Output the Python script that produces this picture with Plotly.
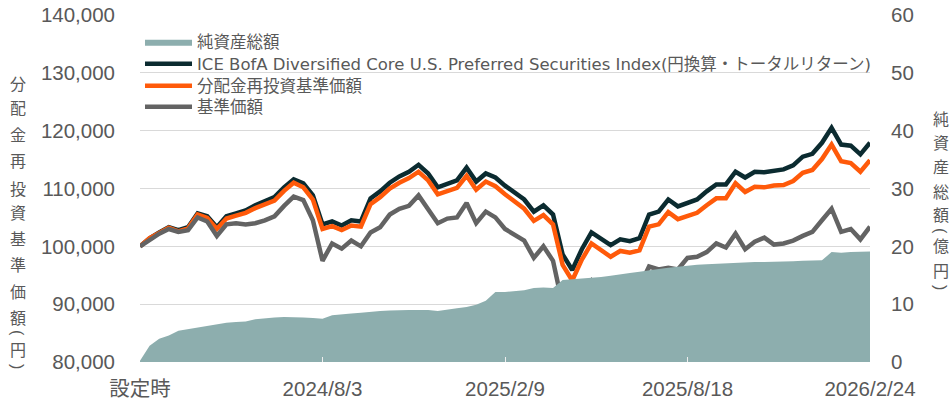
import pandas as pd
import plotly.graph_objects as go

# ---- data ----
dates = pd.date_range("2024-01-26", periods=77, freq="10D")

index_tr = [100.0, 101.4, 102.4, 103.3, 102.8, 103.3, 105.7, 105.2, 103.3, 105.2,
            105.7, 106.2, 107.1, 107.8, 108.5, 110.2, 111.6, 110.9, 108.8, 103.8,
            104.3, 103.6, 104.5, 104.3, 108.3, 109.5, 111.0, 112.1, 112.9, 114.1,
            112.6, 110.2, 110.9, 111.4, 113.6, 111.2, 112.6, 111.9, 110.5, 109.3,
            108.1, 106.0, 107.1, 105.5, 98.6, 95.9, 99.5, 102.4, 101.2, 100.2,
            101.2, 100.9, 101.4, 105.5, 106.0, 108.1, 106.9, 107.6, 108.1, 109.5,
            110.7, 110.7, 112.9, 111.9, 112.9, 112.8, 113.1, 113.3, 114.0, 115.5,
            116.0, 117.9, 120.5, 117.6, 117.4, 115.9, 117.9]

nav_reinvest = [100.0, 101.4, 102.3, 103.2, 102.6, 103.1, 105.5, 104.9, 103.0, 104.8,
                105.3, 105.8, 106.6, 107.3, 107.9, 109.6, 111.0, 110.2, 108.1, 103.0,
                103.5, 102.8, 103.6, 103.4, 107.3, 108.5, 110.0, 111.0, 111.8, 112.9,
                111.4, 109.0, 109.6, 110.1, 112.2, 109.8, 111.2, 110.4, 109.0, 107.7,
                106.5, 104.4, 105.4, 103.8, 96.8, 94.1, 97.7, 100.5, 99.3, 98.2,
                99.2, 98.9, 99.3, 103.4, 103.8, 105.9, 104.7, 105.3, 105.8, 107.1,
                108.3, 108.3, 110.9, 109.4, 110.3, 110.2, 110.5, 110.6, 111.3, 112.7,
                113.2, 115.1, 117.6, 114.7, 114.4, 112.9, 114.9]

nav = [100.0, 101.2, 102.2, 103.0, 102.5, 102.8, 105.0, 104.3, 101.8, 103.8,
       104.0, 103.8, 104.0, 104.5, 105.2, 107.0, 108.6, 108.0, 104.5, 97.5,
       100.5, 99.6, 101.0, 100.0, 102.4, 103.3, 105.5, 106.5, 107.0, 108.8,
       106.5, 104.0, 104.8, 105.0, 107.5, 104.0, 106.0, 105.0, 103.0, 102.0,
       101.0, 98.0, 100.0, 97.5, 89.8, 88.0, 91.5, 94.0, 91.5, 90.5,
       93.0, 91.8, 93.0, 96.5, 96.0, 96.3, 96.0, 98.0, 98.2, 99.0,
       100.5, 99.8, 102.2, 99.5, 100.8, 101.5, 100.3, 100.5, 101.0, 101.8,
       102.5, 104.5, 106.5, 102.5, 103.0, 101.2, 103.4]

net_assets = [0.2, 2.8, 4.0, 4.6, 5.4, 5.7, 5.9, 6.2, 6.6, 6.8,
              6.9, 7.0, 7.4, 7.6, 7.7, 7.8, 7.8, 7.7, 7.6, 7.5,
              8.1, 8.3, 8.4, 8.5, 8.7, 8.8, 8.9, 9.0, 9.0, 9.0,
              9.0, 8.8, 9.1, 9.3, 9.5, 9.9, 10.6, 12.1, 12.1, 12.2,
              12.4, 12.8, 12.9, 12.8, 14.2, 14.3, 14.4, 14.6, 14.7, 14.9,
              15.2, 15.4, 15.6, 15.9, 16.1, 16.3, 16.5, 16.6, 16.8, 16.9,
              17.0, 17.1, 17.1, 17.2, 17.3, 17.3, 17.3, 17.4, 17.4, 17.5,
              17.5, 17.6, 19.0, 18.9, 19.0, 19.0, 19.1]

x_tick_dates = ["2024-01-26", "2024-08-03", "2025-02-09", "2025-08-18", "2026-02-24"]
x_tick_labels = ["設定時", "2024/8/3", "2025/2/9", "2025/8/18", "2026/2/24"]
y_left_ticks = [80000, 90000, 100000, 110000, 120000, 130000, 140000]
y_right_ticks = [0, 10, 20, 30, 40, 50, 60]

series_names = ["純資産総額",
                "ICE BofA Diversified Core U.S. Preferred Securities Index(円換算・トータルリターン)",
                "分配金再投資基準価額",
                "基準価額"]
left_title = "分配金再投資基準価額(円)"
right_title = "純資産総額(億円)"

# ---- styling ----
FONT = "Liberation Sans, Noto Sans CJK JP, sans-serif"
LEG_FONT = "DejaVu Sans, Noto Sans CJK JP, sans-serif"
TXT = "#595959"
C_AREA = "#8DAEAE"
C_INDEX = "#0B2B30"
C_REINV = "#FF5A0A"
C_NAV = "#636363"

L, R, T, B = 140, 82, 15, 45
W, H = 952, 407
pw, ph = W - L - R, H - T - B

def px_x(xp):
    return (xp - L) / pw

def px_y(yp):
    return (H - B - yp) / ph

fig = go.Figure()
fig.add_trace(go.Scatter(x=dates, y=net_assets, name=series_names[0], yaxis="y2",
                         mode="lines", fill="tozeroy", fillcolor=C_AREA,
                         line=dict(width=0, color=C_AREA), legend="legend"))
fig.add_trace(go.Scatter(x=dates, y=[v * 1000 for v in index_tr], name=series_names[1],
                         mode="lines", line=dict(color=C_INDEX, width=4.5), legend="legend2"))
fig.add_trace(go.Scatter(x=dates, y=[v * 1000 for v in nav_reinvest], name=series_names[2],
                         mode="lines", line=dict(color=C_REINV, width=4.5), legend="legend3"))
fig.add_trace(go.Scatter(x=dates, y=[v * 1000 for v in nav], name=series_names[3],
                         mode="lines", line=dict(color=C_NAV, width=4.5), legend="legend4"))

def legend_at(yp):
    return dict(x=0, y=px_y(yp), xanchor="left", yanchor="middle",
                bgcolor="rgba(0,0,0,0)", borderwidth=0,
                font=dict(size=16.5, color=TXT, family=LEG_FONT),
                itemwidth=47)

def vertical_title(text, xp, ys):
    out = []
    for ch, yp in zip(text, ys):
        paren = ch in "()"
        out.append(dict(text=ch, x=px_x(xp), y=px_y(yp), xref="paper", yref="paper",
                        showarrow=False, xanchor="center", yanchor="middle",
                        textangle=90 if paren else 0,
                        font=dict(size=16, color=TXT, family=FONT)))
    return out

annotations = []
annotations += vertical_title(left_title, 18,
                              [84, 109, 135, 161, 189, 213, 239, 265, 292, 318, 333, 350, 366])
annotations += vertical_title(right_title, 941,
                              [119, 143, 167, 192, 216, 231, 246, 271, 287])

fig.update_layout(
    width=W, height=H,
    margin=dict(l=L, r=R, t=T, b=B, pad=0, autoexpand=False),
    paper_bgcolor="white", plot_bgcolor="white",
    font=dict(family=FONT, color=TXT),
    showlegend=True,
    legend=legend_at(42),
    legend2=legend_at(64),
    legend3=legend_at(86),
    legend4=legend_at(107),
    xaxis=dict(type="date", range=[dates[0], dates[-1]],
               tickvals=x_tick_dates, ticktext=x_tick_labels,
               ticks="inside", ticklen=5, tickcolor="#EEEEEE",
               ticklabelstandoff=12,
               showgrid=False, showline=False, zeroline=False,
               tickfont=dict(size=20.5, color=TXT, family=FONT)),
    yaxis=dict(range=[80000, 140000], tickvals=y_left_ticks, tickformat=",",
               showgrid=True, gridcolor="#D9D9D9", gridwidth=1, zeroline=False,
               showline=False, ticks="", ticklabelstandoff=24,
               tickfont=dict(size=20.5, color=TXT, family=FONT)),
    yaxis2=dict(overlaying="y", side="right", range=[0, 60], tickvals=y_right_ticks,
                showgrid=False, zeroline=False, showline=False, ticks="",
                ticklabelstandoff=20,
                tickfont=dict(size=20.5, color=TXT, family=FONT)),
    annotations=annotations,
)

fig.write_html("out.html", config={"displayModeBar": False},
               post_script="document.body.style.margin='0';document.body.style.overflow='hidden';")
